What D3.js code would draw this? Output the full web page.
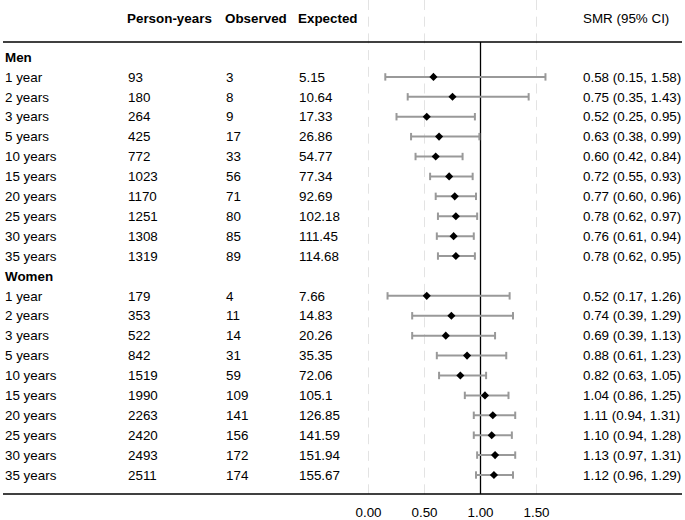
<!DOCTYPE html>
<html>
<head>
<meta charset="utf-8">
<script src="https://cdn.jsdelivr.net/npm/d3@7"></script>
<style>
  body { margin: 0; background: #fff; }
  text { font-family: "Liberation Sans", Arial, sans-serif; font-size: 13.4px; fill: #000; }
</style>
</head>
<body>
<script>
var periods = ["1 year", "2 years", "3 years", "5 years", "10 years", "15 years", "20 years", "25 years", "30 years", "35 years"];

var menPersonYears = [93, 180, 264, 425, 772, 1023, 1170, 1251, 1308, 1319];
var menObserved = [3, 8, 9, 17, 33, 56, 71, 80, 85, 89];
var menExpected = [5.15, 10.64, 17.33, 26.86, 54.77, 77.34, 92.69, 102.18, 111.45, 114.68];
var menSmr = [0.58, 0.75, 0.52, 0.63, 0.60, 0.72, 0.77, 0.78, 0.76, 0.78];
var menLower = [0.15, 0.35, 0.25, 0.38, 0.42, 0.55, 0.60, 0.62, 0.61, 0.62];
var menUpper = [1.58, 1.43, 0.95, 0.99, 0.84, 0.93, 0.96, 0.97, 0.94, 0.95];

var womenPersonYears = [179, 353, 522, 842, 1519, 1990, 2263, 2420, 2493, 2511];
var womenObserved = [4, 11, 14, 31, 59, 109, 141, 156, 172, 174];
var womenExpected = [7.66, 14.83, 20.26, 35.35, 72.06, 105.1, 126.85, 141.59, 151.94, 155.67];
var womenSmr = [0.52, 0.74, 0.69, 0.88, 0.82, 1.04, 1.11, 1.10, 1.13, 1.12];
var womenLower = [0.17, 0.39, 0.39, 0.61, 0.63, 0.86, 0.94, 0.94, 0.97, 0.96];
var womenUpper = [1.26, 1.29, 1.13, 1.23, 1.05, 1.25, 1.31, 1.28, 1.31, 1.29];

var xTicks = [0, 0.5, 1, 1.5];
var headers = ["Person-years", "Observed", "Expected"];

var width = 685, height = 520;

// build rows: group header followed by its periods
var rows = [];
function addGroup(name, py, obs, exp, smr, lo, hi) {
    rows.push({ id: name, label: name, header: true });
    periods.forEach(function (p, i) {
        rows.push({
            id: name + p, label: p, header: false,
            py: py[i], obs: obs[i], exp: exp[i],
            smr: smr[i], lo: lo[i], hi: hi[i]
        });
    });
}
addGroup("Men", menPersonYears, menObserved, menExpected, menSmr, menLower, menUpper);
addGroup("Women", womenPersonYears, womenObserved, womenExpected, womenSmr, womenLower, womenUpper);

var svg = d3.select("body").append("svg")
    .attr("width", width)
    .attr("height", height);

var x = d3.scaleLinear().domain([0, 1.5]).range([368.5, 536.5]);
var y = d3.scalePoint().domain(rows.map(function (d) { return d.id; })).range([57, 475]);

var topY = 42, bottomY = 494;
var colX = [128, 226, 299];

// dashed guides
svg.selectAll("line.grid")
    .data(xTicks.filter(function (t) { return t !== 1; }))
    .enter()
    .append("line")
    .attr("class", "grid")
    .attr("x1", function (d) { return x(d); })
    .attr("x2", function (d) { return x(d); })
    .attr("y1", 0)
    .attr("y2", bottomY)
    .attr("stroke", "#e3e3e3")
    .attr("stroke-width", 1)
    .attr("stroke-dasharray", "10,6.7");

// header row
svg.selectAll("text.head")
    .data(headers)
    .enter()
    .append("text")
    .attr("class", "head")
    .attr("x", function (d, i) { return colX[i] - 1; })
    .attr("y", 18)
    .attr("dy", "0.35em")
    .style("font-weight", "bold")
    .text(function (d) { return d; });

svg.append("text")
    .attr("x", 583)
    .attr("y", 18)
    .attr("dy", "0.35em")
    .text("SMR (95% CI)");

// top and bottom rules
svg.append("line")
    .attr("x1", 3).attr("x2", 682)
    .attr("y1", topY).attr("y2", topY)
    .attr("stroke", "#000").attr("stroke-width", 1.3);
svg.append("line")
    .attr("x1", 3).attr("x2", 682)
    .attr("y1", bottomY).attr("y2", bottomY)
    .attr("stroke", "#000").attr("stroke-width", 1.3);

// null line at 1
svg.append("line")
    .attr("x1", x(1)).attr("x2", x(1))
    .attr("y1", topY).attr("y2", bottomY)
    .attr("stroke", "#000").attr("stroke-width", 1.3);

// axis labels
svg.selectAll("text.tick")
    .data(xTicks)
    .enter()
    .append("text")
    .attr("class", "tick")
    .attr("x", function (d) { return x(d); })
    .attr("y", 512)
    .attr("dy", "0.35em")
    .attr("text-anchor", "middle")
    .text(function (d) { return d3.format(".2f")(d); });

var row = svg.selectAll("g.row")
    .data(rows)
    .enter()
    .append("g")
    .attr("class", "row")
    .attr("transform", function (d) { return "translate(0," + y(d.id) + ")"; });

row.append("text")
    .attr("x", 5)
    .attr("dy", "0.35em")
    .style("font-weight", function (d) { return d.header ? "bold" : null; })
    .text(function (d) { return d.label; });

var data = row.filter(function (d) { return !d.header; });

data.append("text").attr("x", colX[0]).attr("dy", "0.35em").text(function (d) { return d.py; });
data.append("text").attr("x", colX[1]).attr("dy", "0.35em").text(function (d) { return d.obs; });
data.append("text").attr("x", colX[2]).attr("dy", "0.35em").text(function (d) { return d.exp; });
data.append("text").attr("x", 583).attr("dy", "0.35em")
    .text(function (d) {
        var f = d3.format(".2f");
        return f(d.smr) + " (" + f(d.lo) + ", " + f(d.hi) + ")";
    });

// confidence intervals
var ciColor = "#999999";
data.append("line")
    .attr("x1", function (d) { return x(d.lo); })
    .attr("x2", function (d) { return x(d.hi); })
    .attr("stroke", ciColor).attr("stroke-width", 2);
data.append("line")
    .attr("x1", function (d) { return x(d.lo); })
    .attr("x2", function (d) { return x(d.lo); })
    .attr("y1", -3.7).attr("y2", 3.7)
    .attr("stroke", ciColor).attr("stroke-width", 2);
data.append("line")
    .attr("x1", function (d) { return x(d.hi); })
    .attr("x2", function (d) { return x(d.hi); })
    .attr("y1", -3.7).attr("y2", 3.7)
    .attr("stroke", ciColor).attr("stroke-width", 2);

data.append("path")
    .attr("d", d3.symbol().type(d3.symbolDiamond2).size(42))
    .attr("transform", function (d) { return "translate(" + x(d.smr) + ",0)"; })
    .attr("fill", "#000");
</script>
</body>
</html>
